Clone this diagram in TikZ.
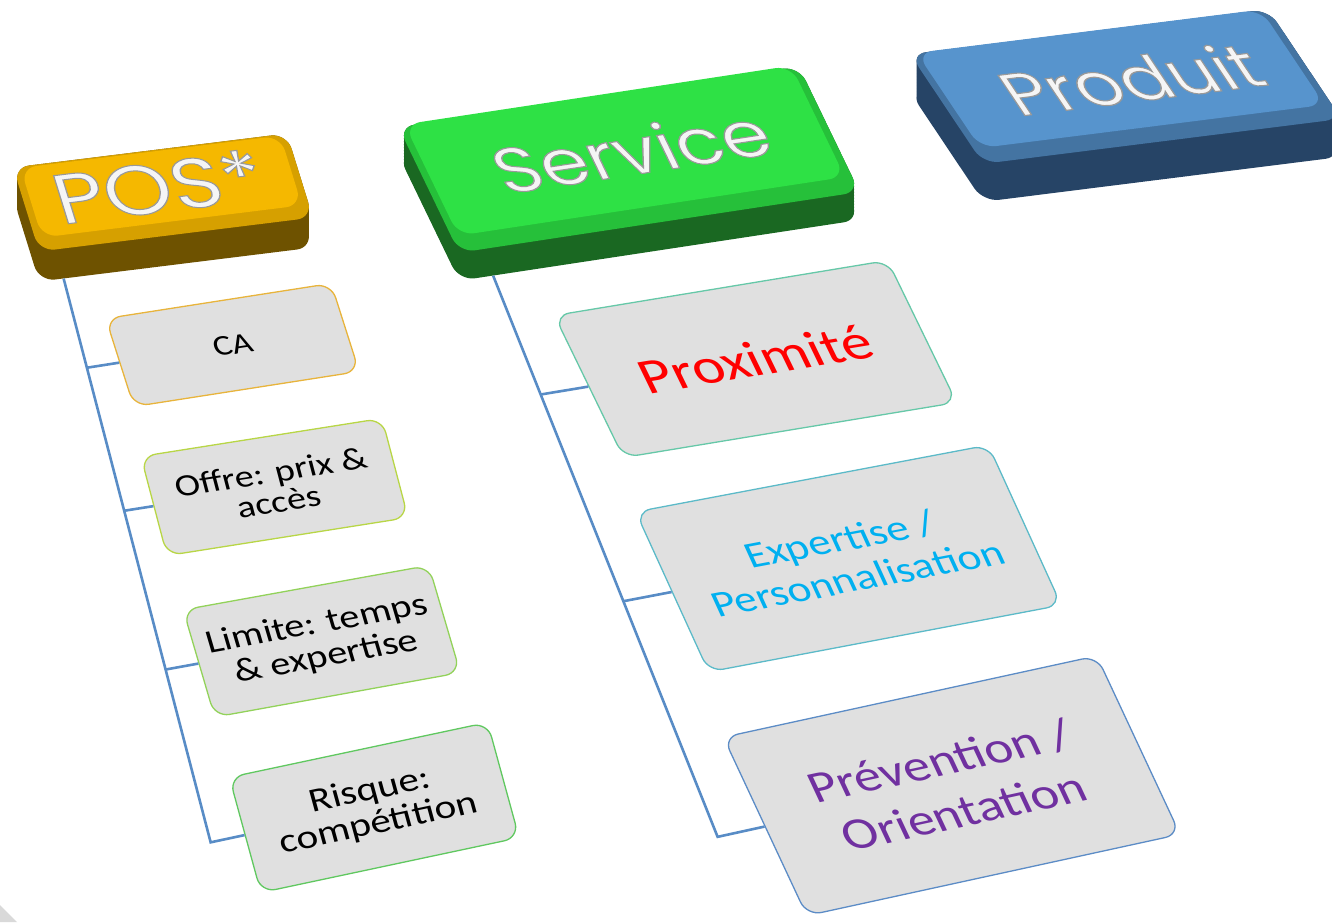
\documentclass[tikz,border=0pt]{standalone}
\usepackage{fontspec}
\setmainfont{Carlito}
\newfontfamily\headfont{Poppins}
\usetikzlibrary{calc}

\definecolor{cardfill}{RGB}{224,224,224}
\definecolor{trunkblue}{RGB}{88,140,198}
\definecolor{posface}{RGB}{245,184,0}
\definecolor{posrim}{RGB}{214,160,0}
\definecolor{posdark}{RGB}{110,82,0}
\definecolor{servface}{RGB}{46,225,69}
\definecolor{servrim}{RGB}{38,192,58}
\definecolor{servdark}{RGB}{26,104,34}
\definecolor{prodface}{RGB}{87,148,205}
\definecolor{prodrim}{RGB}{68,116,162}
\definecolor{proddark}{RGB}{38,68,102}
\definecolor{caline}{RGB}{232,180,60}
\definecolor{offreline}{RGB}{184,214,70}
\definecolor{limiteline}{RGB}{146,210,90}
\definecolor{risqueline}{RGB}{96,200,96}
\definecolor{proxline}{RGB}{102,200,168}
\definecolor{expline}{RGB}{92,186,200}
\definecolor{prevline}{RGB}{92,140,198}
\definecolor{proxtext}{RGB}{255,0,0}
\definecolor{exptext}{RGB}{0,176,240}
\definecolor{prevtext}{RGB}{112,48,160}

% white title letters with a grey edge
\newcommand{\edged}[1]{\special{pdf:code 2 Tr 1.3 w 0.6 0.6 0.6 RG}#1\special{pdf:code 0 Tr}}

\begin{document}
\begin{tikzpicture}[x=1pt,y=-1pt,
  plane/.style n args={4}{cm={#1,#2,#3,#4,(0,0)}},
  posplane/.style={plane={0.992}{0.123}{-0.248}{0.8}},
  servplane/.style={plane={0.9886}{0.150}{-0.387}{0.8}},
  prodplane/.style={plane={0.992}{0.1246}{-0.535}{0.8}},
  face/.style={rounded corners=16pt, inner sep=0pt},
  title/.style={inner sep=0pt, text=white!96!black},
  card/.style={draw, fill=cardfill, line width=1.3pt, rounded corners=15pt, align=center, inner sep=0pt},
  trunk/.style={draw=trunkblue, line width=2.6pt},
]
\useasboundingbox (0,0) rectangle (1332,922);
\clip (0,0) rectangle (1332,922);

\fill[black!15] (0,905) -- (17,922) -- (0,922) -- cycle;

% headers
\foreach \d in {0,3,...,27}
  \node[face, posplane, fill=posdark, minimum width=276pt, minimum height=105pt] (posd\d) at (163,{192.5+\d}) {};
\node[face, posplane, fill=posdark, minimum width=276pt, minimum height=105pt] (posside) at (163,222.5) {};
\node[face, posplane, fill=posrim, minimum width=276pt, minimum height=105pt] (pos) at (163,192.5) {};
\node[face, posplane, fill=posface, minimum width=262pt, minimum height=87pt] (postop) at ($(pos.center)!0.14!(pos.north)$) {};
\node[posplane, title, font=\headfont\fontsize{86}{86}\selectfont] (postitle) at ($(postop.center)+(-3,0)$) {\edged{POS*}};

\foreach \d in {0,3,...,27}
  \node[face, servplane, fill=servdark, minimum width=405pt, minimum height=157pt] (servd\d) at (629,{159.5+\d}) {};
\node[face, servplane, fill=servdark, minimum width=405pt, minimum height=157pt] (servside) at (629,187.5) {};
\node[face, servplane, fill=servrim, minimum width=405pt, minimum height=157pt] (serv) at (629,159.5) {};
\node[face, servplane, fill=servface, minimum width=391pt, minimum height=139pt] (servtop) at ($(serv.center)!0.14!(serv.north)$) {};
\node[servplane, title, font=\headfont\fontsize{76}{76}\selectfont] (servtitle) at ($(servtop.center)+(6,0)$) {\edged{Service}};

\foreach \d in {0,3,...,36}
  \node[face, prodplane, fill=proddark, minimum width=361pt, minimum height=137pt] (prodd\d) at (1125.75,{86.5+\d}) {};
\node[face, prodplane, fill=proddark, minimum width=361pt, minimum height=137pt] (prodside) at (1125.75,124.5) {};
\node[face, prodplane, fill=prodrim, minimum width=361pt, minimum height=137pt] (prod) at (1125.75,86.5) {};
\node[face, prodplane, fill=prodface, minimum width=347pt, minimum height=119pt] (prodtop) at ($(prod.center)!0.14!(prod.north)$) {};
\node[prodplane, title, font=\headfont\fontsize{72}{72}\selectfont] (prodtitle) at ($(prodtop.center)+(10,0)$) {\edged{Produit}};

% POS* children
\node[card, draw=caline, plane={0.988}{0.154}{-0.255}{0.8}, minimum width=228pt, minimum height=110pt,
  font=\fontsize{35}{38}\selectfont] (ca) at (232.5,345) {CA};
\node[card, draw=offreline, plane={0.988}{0.156}{-0.21}{0.8}, minimum width=244pt, minimum height=124pt,
  font=\fontsize{38}{37}\selectfont] (offre) at (274.5,487) {Offre: prix \&\\accès};
\node[card, draw=limiteline, plane={0.984}{0.178}{-0.235}{0.8}, minimum width=249.5pt, minimum height=134pt,
  font=\fontsize{40}{41}\selectfont] (limite) at (321.75,641.25) {Limite: temps\\\& expertise};
\node[card, draw=risqueline, plane={0.978}{0.208}{-0.219}{0.8}, minimum width=264pt, minimum height=144pt,
  font=\fontsize{41}{41}\selectfont] (risque) at (374.25,807.5) {Risque:\\compétition};

% Service children
\node[card, draw=proxline, text=proxtext, plane={0.987}{0.163}{-0.389}{0.8}, minimum width=337.5pt, minimum height=177.5pt,
  font=\fontsize{60}{60}\selectfont] (prox) at (755.5,359) {Proximité};
\node[card, draw=expline, text=exptext, plane={0.982}{0.186}{-0.365}{0.8}, minimum width=359pt, minimum height=200pt,
  font=\fontsize{44}{49}\selectfont] (exp) at (848.5,558.5) {Expertise /\\Personnalisation};
\node[card, draw=prevline, text=prevtext, plane={0.977}{0.213}{-0.374}{0.8}, minimum width=382pt, minimum height=223pt,
  font=\fontsize{53}{63}\selectfont] (prev) at (951.75,785.75) {Prévention /\\Orientation};

% connectors
\coordinate (posroot) at ($(posside.south west)!0.09!(posside.south east)$);
\coordinate (posdir) at ($(posroot)+(145,556)$);
\draw[trunk] (posroot) -- (intersection of posroot--posdir and risque.west--risque.east) -- (risque.west);
\foreach \c in {ca,offre,limite}
  \draw[trunk] (intersection of posroot--posdir and \c.west--\c.east) -- (\c.west);

\coordinate (servroot) at ($(servside.south west)!0.085!(servside.south east)$);
\coordinate (servdir) at ($(servroot)+(222,555)$);
\draw[trunk] (servroot) -- (intersection of servroot--servdir and prev.west--prev.east) -- (prev.west);
\foreach \c in {prox,exp}
  \draw[trunk] (intersection of servroot--servdir and \c.west--\c.east) -- (\c.west);

\end{tikzpicture}
\end{document}
